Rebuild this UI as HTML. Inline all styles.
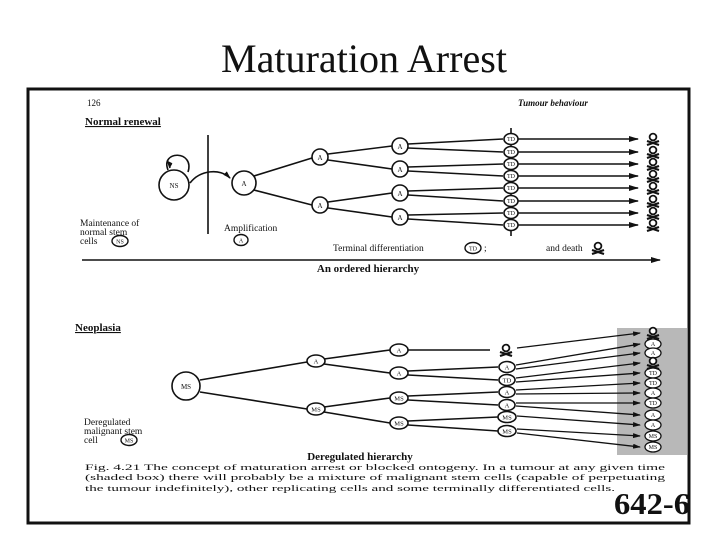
<!DOCTYPE html>
<html><head><style>
html,body{margin:0;padding:0;background:#fff;}
svg{display:block;}
text{font-family:"Liberation Serif",serif;fill:#111;}
</style></head><body>
<svg width="720" height="540" viewBox="0 0 720 540" xmlns="http://www.w3.org/2000/svg">
<defs>
<marker id="ar" markerWidth="10" markerHeight="6" refX="9" refY="3" orient="auto" markerUnits="userSpaceOnUse">
<path d="M0,0 L10,3 L0,6 z" fill="#111"/></marker>
<marker id="ar2" markerWidth="8" markerHeight="5" refX="7" refY="2.5" orient="auto" markerUnits="userSpaceOnUse">
<path d="M0,0 L8,2.5 L0,5 z" fill="#111"/></marker>
<g id="sk"><circle cx="0" cy="-2" r="3.4" fill="#fff" stroke="#111" stroke-width="1.8"/><path d="M-6,2 L6,6 M-6,6 L6,2" stroke="#111" stroke-width="2.2"/></g>
</defs>
<text x="364" y="72" font-size="40" text-anchor="middle" textLength="286" lengthAdjust="spacingAndGlyphs">Maturation Arrest</text>
<path d="M28,89 L689,89 L689,523 L28,523 Z" fill="none" stroke="#111" stroke-width="3"/>
<text x="87" y="106" font-size="9">126</text>
<text x="518" y="106" font-size="9" font-style="italic" font-weight="bold">Tumour behaviour</text>
<text x="85" y="125" font-size="11" font-weight="bold" text-decoration="underline">Normal renewal</text>
<g stroke="#111" stroke-width="1.6" fill="none">
<line x1="208" y1="135" x2="208" y2="234"/>
<circle cx="174" cy="185" r="15" fill="#fff"/>
<path d="M168,170 C160,150 195,150 188,172" />
<path d="M170,168 l-2,-6 l4,2" fill="#111"/>
<path d="M190,183 C200,170 220,168 230,178" marker-end="url(#ar2)"/>
<circle cx="244" cy="183" r="12" fill="#fff"/>
<line x1="254" y1="176" x2="312" y2="158"/><line x1="254" y1="190" x2="312" y2="205"/>
<circle cx="320" cy="157" r="8" fill="#fff"/><circle cx="320" cy="205" r="8" fill="#fff"/>
<line x1="328" y1="154" x2="392" y2="146"/><line x1="328" y1="160" x2="392" y2="169"/>
<line x1="328" y1="202" x2="392" y2="193"/><line x1="328" y1="208" x2="392" y2="217"/>
<circle cx="400" cy="146" r="8" fill="#fff"/><circle cx="400" cy="169" r="8" fill="#fff"/>
<circle cx="400" cy="193" r="8" fill="#fff"/><circle cx="400" cy="217" r="8" fill="#fff"/>
<line x1="408" y1="144" x2="503" y2="139"/><line x1="408" y1="148" x2="503" y2="152"/>
<line x1="408" y1="167" x2="503" y2="164"/><line x1="408" y1="171" x2="503" y2="176"/>
<line x1="408" y1="191" x2="503" y2="188"/><line x1="408" y1="195" x2="503" y2="201"/>
<line x1="408" y1="215" x2="503" y2="213"/><line x1="408" y1="219" x2="503" y2="225"/>
<line x1="511" y1="128" x2="511" y2="236"/>
</g>
<g font-size="7" text-anchor="middle">
<text x="174" y="188">NS</text>
<text x="244" y="186">A</text>
<text x="320" y="160">A</text><text x="320" y="208">A</text>
<text x="400" y="149">A</text><text x="400" y="172">A</text>
<text x="400" y="196">A</text><text x="400" y="220">A</text>
</g>
<g stroke="#111" stroke-width="1.6" fill="#fff">
<ellipse cx="511" cy="139" rx="7" ry="5.5"/><ellipse cx="511" cy="152" rx="7" ry="5.5"/>
<ellipse cx="511" cy="164" rx="7" ry="5.5"/><ellipse cx="511" cy="176" rx="7" ry="5.5"/>
<ellipse cx="511" cy="188" rx="7" ry="5.5"/><ellipse cx="511" cy="201" rx="7" ry="5.5"/>
<ellipse cx="511" cy="213" rx="7" ry="5.5"/><ellipse cx="511" cy="225" rx="7" ry="5.5"/>
</g>
<g font-size="6" text-anchor="middle">
<text x="511" y="141">TD</text><text x="511" y="154">TD</text><text x="511" y="166">TD</text><text x="511" y="178">TD</text>
<text x="511" y="190">TD</text><text x="511" y="203">TD</text><text x="511" y="215">TD</text><text x="511" y="227">TD</text>
</g>
<g stroke="#111" stroke-width="1.4" marker-end="url(#ar)">
<line x1="518" y1="139" x2="638" y2="139"/><line x1="518" y1="152" x2="638" y2="152"/>
<line x1="518" y1="164" x2="638" y2="164"/><line x1="518" y1="176" x2="638" y2="176"/>
<line x1="518" y1="188" x2="638" y2="188"/><line x1="518" y1="201" x2="638" y2="201"/>
<line x1="518" y1="213" x2="638" y2="213"/><line x1="518" y1="225" x2="638" y2="225"/>
</g>
<use href="#sk" x="653" y="139"/><use href="#sk" x="653" y="152"/><use href="#sk" x="653" y="164"/><use href="#sk" x="653" y="176"/>
<use href="#sk" x="653" y="188"/><use href="#sk" x="653" y="201"/><use href="#sk" x="653" y="213"/><use href="#sk" x="653" y="225"/>
<text x="80" y="226" font-size="9.5">Maintenance of</text>
<text x="80" y="235" font-size="9.5">normal stem</text>
<text x="80" y="244" font-size="9.5">cells</text>
<ellipse cx="120" cy="241" rx="8" ry="5.5" fill="none" stroke="#111" stroke-width="1.4"/>
<text x="120" y="243.5" font-size="6" text-anchor="middle">NS</text>
<text x="224" y="231" font-size="9.5">Amplification</text>
<ellipse cx="241" cy="240" rx="7" ry="5.5" fill="none" stroke="#111" stroke-width="1.4"/>
<text x="241" y="242.5" font-size="6" text-anchor="middle">A</text>
<text x="333" y="251" font-size="9.5">Terminal differentiation</text>
<ellipse cx="473" cy="248" rx="8" ry="5.5" fill="none" stroke="#111" stroke-width="1.4"/>
<text x="473" y="250.5" font-size="6" text-anchor="middle">TD</text>
<text x="484" y="251" font-size="9.5">;</text>
<text x="546" y="251" font-size="9.5">and death</text>
<use href="#sk" x="598" y="248"/>
<line x1="82" y1="260" x2="660" y2="260" stroke="#111" stroke-width="1.6" marker-end="url(#ar)"/>
<text x="368" y="272" font-size="11" font-weight="bold" text-anchor="middle">An ordered hierarchy</text>

<text x="75" y="331" font-size="11" font-weight="bold" text-decoration="underline">Neoplasia</text>
<rect x="617" y="328" width="70" height="127" fill="#b8b8b8"/>
<g stroke="#111" stroke-width="1.6" fill="none">
<line x1="200" y1="380" x2="307" y2="362"/><line x1="200" y1="392" x2="307" y2="409"/>
<line x1="324" y1="359" x2="390" y2="350"/><line x1="324" y1="364" x2="390" y2="373"/>
<line x1="324" y1="407" x2="390" y2="398"/><line x1="324" y1="412" x2="390" y2="423"/>
<line x1="408" y1="350" x2="490" y2="350"/>
<line x1="408" y1="371" x2="498" y2="367"/><line x1="408" y1="375" x2="498" y2="380"/>
<line x1="408" y1="396" x2="498" y2="392"/><line x1="408" y1="400" x2="498" y2="405"/>
<line x1="408" y1="421" x2="498" y2="417"/><line x1="408" y1="425" x2="498" y2="431"/>
</g>
<g stroke="#111" stroke-width="1.6" fill="#fff">
<circle cx="186" cy="386" r="14"/>
<ellipse cx="316" cy="361" rx="9" ry="6"/><ellipse cx="316" cy="409" rx="9" ry="6"/>
<ellipse cx="399" cy="350" rx="9" ry="6"/><ellipse cx="399" cy="373" rx="9" ry="6"/>
<ellipse cx="399" cy="398" rx="9" ry="6"/><ellipse cx="399" cy="423" rx="9" ry="6"/>
<ellipse cx="507" cy="367" rx="8" ry="5.5"/><ellipse cx="507" cy="380" rx="8" ry="5.5"/>
<ellipse cx="507" cy="392" rx="8" ry="5.5"/><ellipse cx="507" cy="405" rx="8" ry="5.5"/>
<ellipse cx="507" cy="417" rx="9" ry="5.5"/><ellipse cx="507" cy="431" rx="9" ry="5.5"/>
</g>
<use href="#sk" x="506" y="350"/>
<g font-size="6.5" text-anchor="middle">
<text x="186" y="389" font-size="7">MS</text>
<text x="316" y="363.5">A</text><text x="316" y="411.5">MS</text>
<text x="399" y="352.5">A</text><text x="399" y="375.5">A</text><text x="399" y="400.5">MS</text><text x="399" y="425.5">MS</text>
<text x="507" y="369.5">A</text><text x="507" y="382.5">TD</text><text x="507" y="394.5">A</text>
<text x="507" y="407.5">A</text><text x="507" y="419.5">MS</text><text x="507" y="433.5">MS</text>
</g>
<g stroke="#111" stroke-width="1.3" marker-end="url(#ar2)">
<line x1="517" y1="348" x2="640" y2="333"/>
<line x1="516" y1="365" x2="640" y2="344"/><line x1="516" y1="369" x2="640" y2="353"/>
<line x1="516" y1="378" x2="640" y2="363"/><line x1="516" y1="382" x2="640" y2="373"/>
<line x1="516" y1="390" x2="640" y2="383"/><line x1="516" y1="394" x2="640" y2="393"/>
<line x1="516" y1="403" x2="640" y2="403"/><line x1="516" y1="406" x2="640" y2="415"/>
<line x1="517" y1="416" x2="640" y2="425"/><line x1="517" y1="429" x2="640" y2="436"/>
<line x1="517" y1="433" x2="640" y2="447"/>
</g>
<g stroke="#111" stroke-width="1.3" fill="#fff">
<ellipse cx="653" cy="344" rx="8" ry="5"/><ellipse cx="653" cy="353" rx="8" ry="5"/>
<ellipse cx="653" cy="373" rx="8" ry="5"/><ellipse cx="653" cy="383" rx="8" ry="5"/>
<ellipse cx="653" cy="393" rx="8" ry="5"/><ellipse cx="653" cy="403" rx="8" ry="5"/>
<ellipse cx="653" cy="415" rx="8" ry="5"/><ellipse cx="653" cy="425" rx="8" ry="5"/>
<ellipse cx="653" cy="436" rx="8" ry="5"/><ellipse cx="653" cy="447" rx="8" ry="5"/>
</g>
<use href="#sk" x="653" y="333"/><use href="#sk" x="653" y="363"/>
<g font-size="6" text-anchor="middle">
<text x="653" y="346">A</text><text x="653" y="355">A</text><text x="653" y="375">TD</text><text x="653" y="385">TD</text>
<text x="653" y="395">A</text><text x="653" y="405">TD</text><text x="653" y="417">A</text><text x="653" y="427">A</text>
<text x="653" y="438">MS</text><text x="653" y="449">MS</text>
</g>
<text x="84" y="425" font-size="9.5">Deregulated</text>
<text x="84" y="434" font-size="9.5">malignant stem</text>
<text x="84" y="443" font-size="9.5">cell</text>
<ellipse cx="129" cy="440" rx="8" ry="5.5" fill="none" stroke="#111" stroke-width="1.4"/>
<text x="129" y="442.5" font-size="6" text-anchor="middle">MS</text>
<text x="360" y="460" font-size="11" font-weight="bold" text-anchor="middle">Deregulated hierarchy</text>
<text x="85" y="470" font-size="8.2" textLength="580" lengthAdjust="spacingAndGlyphs">Fig. 4.21 The concept of maturation arrest or blocked ontogeny. In a tumour at any given time</text>
<text x="85" y="480" font-size="8.2" textLength="580" lengthAdjust="spacingAndGlyphs">(shaded box) there will probably be a mixture of malignant stem cells (capable of perpetuating</text>
<text x="85" y="491" font-size="8.2" textLength="530" lengthAdjust="spacingAndGlyphs">the tumour indefinitely), other replicating cells and some terminally differentiated cells.</text>
<text x="614" y="514" font-size="31" font-weight="bold" textLength="76" lengthAdjust="spacingAndGlyphs">642-6</text>
</svg>
</body></html>
